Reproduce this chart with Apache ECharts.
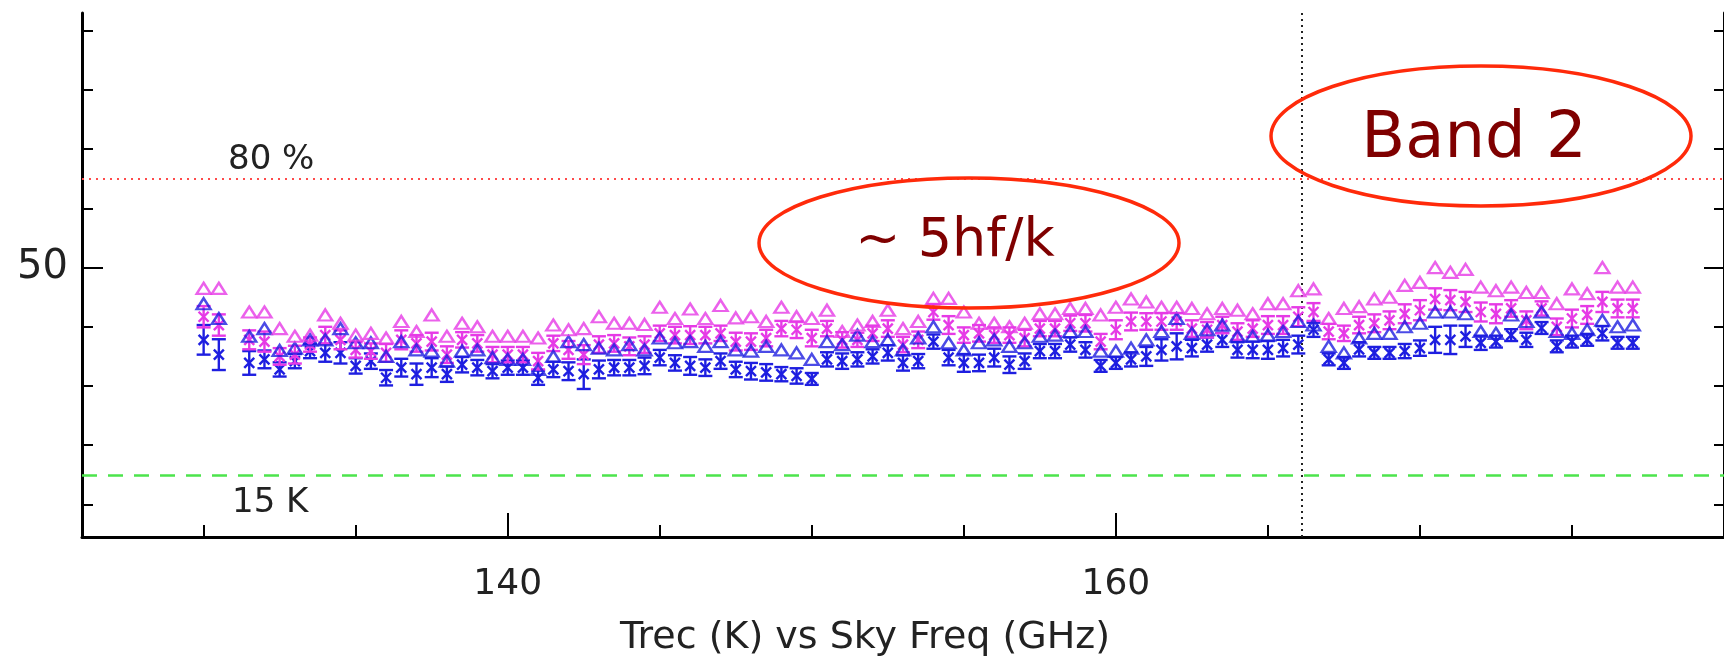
<!DOCTYPE html>
<html>
<head>
<meta charset="utf-8">
<script src="https://cdn.jsdelivr.net/npm/echarts@6/dist/echarts.min.js"></script>
<style>
  html, body { margin: 0; padding: 0; background: #ffffff; }
  #chart { width: 1724px; height: 662px; }
</style>
</head>
<body>
<div id="chart"></div>
<script>
// Sky frequency of each measurement (GHz)
const freqGHz = [
  130, 130.5, 131.5, 132, 132.5, 133, 133.5, 134, 134.5, 135,
  135.5, 136, 136.5, 137, 137.5, 138, 138.5, 139, 139.5, 140,
  140.5, 141, 141.5, 142, 142.5, 143, 143.5, 144, 144.5, 145,
  145.5, 146, 146.5, 147, 147.5, 148, 148.5, 149, 149.5, 150,
  150.5, 151, 151.5, 152, 152.5, 153, 153.5, 154, 154.5, 155,
  155.5, 156, 156.5, 157, 157.5, 158, 158.5, 159, 159.5, 160,
  160.5, 161, 161.5, 162, 162.5, 163, 163.5, 164, 164.5, 165,
  165.5, 166, 166.5, 167, 167.5, 168, 168.5, 169, 169.5, 170,
  170.5, 171, 171.5, 172, 172.5, 173, 173.5, 174, 174.5, 175,
  175.5, 176, 176.5, 177
];

// Pol. B (magenta): peak Trec over the IF band (K)
const magentaPeak = [
  46.5, 46.5, 42.5, 42.5, 39.7, 38.4, 38.6, 42.0, 40.6, 38.6,
  38.9, 38.1, 40.9, 39.2, 42.0, 38.4, 40.6, 40.0, 38.4, 38.4,
  38.4, 38.1, 40.3, 39.5, 39.7, 41.7, 40.6, 40.6, 40.4, 43.3,
  41.4, 43.0, 41.4, 43.6, 41.5, 41.7, 40.9, 43.3, 41.7, 41.4,
  42.8, 39.2, 40.3, 40.9, 42.8, 39.7, 40.9, 44.8, 44.8, 42.5,
  40.6, 40.6, 40.0, 40.6, 42.2, 42.2, 43.1, 43.1, 42.0, 43.3,
  44.7, 44.2, 43.3, 43.3, 43.1, 42.2, 43.1, 42.8, 42.2, 43.9,
  43.9, 46.1, 46.4, 41.4, 43.1, 43.4, 44.7, 45.0, 47.0, 47.5,
  50.0, 49.2, 49.7, 46.7, 46.1, 46.7, 45.8, 45.8, 43.9, 46.4,
  45.6, 50.0, 46.7, 46.7
];

// Pol. A (blue): peak Trec over the IF band (K)
const bluePeak = [
  43.9, 41.4, 38.4, 39.7, 36.0, 36.4, 37.8, 37.8, 39.7, 37.3,
  37.3, 35.0, 37.5, 36.1, 35.9, 34.2, 35.9, 36.1, 34.8, 34.5,
  34.5, 32.8, 35.0, 37.5, 37.0, 36.4, 36.1, 37.0, 36.1, 38.1,
  37.3, 37.5, 36.7, 37.5, 36.1, 35.9, 36.7, 36.1, 35.6, 34.5,
  37.5, 37.0, 38.6, 37.5, 37.8, 36.1, 38.1, 40.0, 37.3, 36.1,
  37.3, 37.8, 36.7, 37.3, 38.4, 38.6, 39.2, 39.2, 35.9, 35.9,
  36.4, 37.8, 39.2, 41.4, 38.9, 39.5, 40.3, 38.4, 38.4, 38.6,
  39.2, 40.9, 40.3, 36.7, 35.6, 38.1, 38.9, 38.9, 40.0, 40.6,
  42.5, 42.5, 42.2, 39.2, 38.9, 42.0, 40.9, 42.5, 39.2, 38.9,
  39.5, 41.1, 40.0, 40.3
];

// Pol. B (magenta): band-averaged Trec (K) and its scatter
const magentaMean = [
  41.7, 40.3, 37.8, 37.5, 35.0, 35.3, 37.0, 38.6, 37.8, 36.1,
  35.9, 35.6, 37.8, 37.2, 37.5, 35.3, 37.8, 37.2, 35.3, 35.3,
  35.3, 34.2, 37.2, 36.1, 35.3, 37.0, 37.2, 36.7, 37.0, 38.9,
  38.6, 38.6, 38.6, 38.9, 37.5, 37.5, 38.1, 39.7, 39.5, 38.1,
  39.7, 37.8, 37.8, 38.9, 39.7, 37.0, 37.8, 42.5, 40.3, 38.6,
  38.9, 38.6, 38.6, 38.1, 39.7, 39.7, 40.6, 40.6, 37.5, 39.5,
  40.9, 40.9, 40.9, 40.9, 39.7, 39.5, 40.3, 39.2, 39.7, 40.3,
  40.3, 41.7, 42.5, 39.2, 38.9, 40.3, 40.6, 41.1, 42.2, 42.8,
  44.7, 44.5, 44.2, 42.5, 42.2, 43.1, 41.1, 43.1, 40.0, 41.4,
  42.0, 44.2, 43.1, 43.1
];
const magentaErr = [
  1.8, 1.8, 1.6, 1.7, 1.4, 1.5, 1.2, 1.4, 1.6, 1.3,
  1.3, 1.5, 1.6, 1.4, 1.5, 1.4, 1.3, 1.4, 1.3, 1.3,
  1.3, 1.4, 1.3, 1.5, 1.6, 1.4, 1.4, 1.5, 1.4, 1.3,
  1.4, 1.5, 1.4, 1.3, 1.5, 1.4, 1.4, 1.3, 1.4, 1.4,
  1.3, 1.3, 1.2, 1.3, 1.4, 1.3, 1.4, 1.3, 1.5, 1.3,
  1.4, 1.3, 1.3, 1.4, 1.3, 1.3, 1.3, 1.4, 1.3, 1.6,
  1.5, 1.4, 1.4, 1.4, 1.4, 1.3, 1.4, 1.4, 1.4, 1.5,
  1.5, 1.6, 1.5, 1.3, 1.3, 1.4, 1.5, 1.5, 1.6, 1.7,
  1.8, 1.7, 1.7, 1.6, 1.6, 1.4, 1.5, 1.2, 1.4, 1.5,
  1.5, 1.7, 1.5, 1.5
];

// Pol. A (blue): band-averaged Trec (K) and its scatter
const blueMean = [
  37.8, 35.3, 33.9, 34.5, 32.8, 34.2, 35.9, 35.6, 35.6, 33.4,
  34.2, 31.4, 33.1, 32.0, 33.1, 32.0, 33.6, 33.1, 32.5, 33.1,
  33.1, 31.4, 32.8, 32.5, 32.0, 32.8, 33.1, 33.1, 33.4, 34.8,
  33.9, 33.4, 33.1, 34.2, 32.8, 32.5, 32.3, 32.0, 31.7, 31.2,
  34.5, 34.2, 34.5, 35.0, 35.6, 33.9, 34.2, 37.5, 34.8, 33.9,
  33.9, 34.8, 33.6, 34.2, 35.9, 35.9, 37.0, 36.1, 33.4, 33.9,
  34.5, 35.0, 36.1, 36.7, 36.4, 37.0, 37.8, 36.1, 36.1, 36.1,
  36.4, 37.0, 39.5, 34.5, 33.9, 36.2, 35.6, 35.6, 35.9, 36.4,
  37.8, 37.8, 38.4, 37.3, 37.5, 38.6, 37.8, 39.8, 36.7, 37.5,
  37.8, 38.9, 37.3, 37.3
];
const blueErr = [
  2.5, 2.6, 2.0, 1.5, 1.2, 1.2, 1.2, 1.5, 1.8, 1.3,
  1.3, 1.3, 1.5, 1.8, 1.6, 1.3, 1.3, 1.3, 1.2, 1.2,
  1.2, 1.2, 1.3, 1.5, 2.5, 1.5, 1.3, 1.3, 1.4, 1.3,
  1.3, 1.5, 1.4, 1.3, 1.3, 1.4, 1.4, 1.2, 1.3, 1.0,
  1.2, 1.3, 1.2, 1.2, 1.3, 1.3, 1.2, 1.2, 1.3, 1.5,
  1.4, 1.5, 1.4, 1.3, 1.2, 1.2, 1.2, 1.3, 1.0, 1.0,
  1.2, 1.6, 1.8, 2.2, 1.4, 1.2, 1.2, 1.3, 1.4, 1.5,
  1.4, 1.5, 1.2, 1.0, 1.0, 1.2, 1.0, 1.0, 1.2, 1.3,
  2.2, 2.4, 1.8, 1.2, 1.0, 1.0, 1.2, 1.0, 1.0, 1.0,
  1.0, 1.2, 1.0, 1.0
];

// Axis ticks and labels
const xTickValues = [130, 135, 140, 145, 150, 155, 160, 165, 170, 175];
const xLabelValues = [140, 160];
const yTickValues = [10, 20, 30, 40, 50, 60, 70, 80, 90];
const yLabelValues = [50];

// Reference levels (K) and the band edge (GHz)
const spec80 = 65;
const spec15 = 15;
const bandEdge = 166.1;

const MAGENTA = '#e63ae6';
const BLUE = '#1e1ee0';
const FONT = "'DejaVu Sans', sans-serif";

const chart = echarts.init(document.getElementById('chart'), null, { renderer: 'canvas' });

// Mean value with an error bar: vertical bar, end caps and an x marker
function errorBarRenderer(color) {
  return function (params, api) {
    const f = api.value(0);
    const m = api.value(1);
    const e = api.value(2);
    const c = api.coord([f, m]);
    const hi = api.coord([f, m + e]);
    const lo = api.coord([f, m - e]);
    const cap = 7;
    const s = 5;
    const style = { stroke: color, lineWidth: 2.4, fill: null };
    return {
      type: 'group',
      children: [
        { type: 'line', shape: { x1: c[0], y1: hi[1], x2: c[0], y2: lo[1] }, style: style },
        { type: 'line', shape: { x1: c[0] - cap, y1: hi[1], x2: c[0] + cap, y2: hi[1] }, style: style },
        { type: 'line', shape: { x1: c[0] - cap, y1: lo[1], x2: c[0] + cap, y2: lo[1] }, style: style },
        { type: 'line', shape: { x1: c[0] - s, y1: c[1] - s, x2: c[0] + s, y2: c[1] + s }, style: style },
        { type: 'line', shape: { x1: c[0] - s, y1: c[1] + s, x2: c[0] + s, y2: c[1] - s }, style: style }
      ]
    };
  };
}

function peakSeries(name, values, color) {
  return {
    name: name,
    type: 'scatter',
    xAxisIndex: 0,
    yAxisIndex: 0,
    symbol: 'triangle',
    symbolSize: [14, 11],
    data: freqGHz.map((f, i) => [f, values[i]]),
    itemStyle: { color: 'rgba(255,255,255,0)', borderColor: color, borderWidth: 2.4 },
    z: 3
  };
}

function meanSeries(name, values, errs, color) {
  return {
    name: name,
    type: 'custom',
    xAxisIndex: 0,
    yAxisIndex: 0,
    renderItem: errorBarRenderer(color),
    encode: { x: 0, y: 1 },
    data: freqGHz.map((f, i) => [f, values[i], errs[i]]),
    z: 3
  };
}

const baseX = { type: 'value', min: 126, max: 180, position: 'bottom', splitLine: { show: false } };
const baseY = { type: 'value', min: 4.5, max: 93, splitLine: { show: false } };

const option = {
  animation: false,
  backgroundColor: '#ffffff',
  grid: { left: 82, right: -2, top: 13, bottom: 119, containLabel: false },
  xAxis: [
    Object.assign({}, baseX, {
      axisLine: { show: true, onZero: false, lineStyle: { color: '#000', width: 3 } },
      axisTick: { show: true, inside: true, length: 12, customValues: xTickValues, lineStyle: { color: '#000', width: 2 } },
      axisLabel: { show: false },
      name: 'Trec (K) vs Sky Freq (GHz)',
      nameLocation: 'middle',
      nameGap: 82,
      nameTextStyle: { fontFamily: FONT, fontSize: 38, color: '#222', padding: [0, 76, 0, 0] }
    }),
    Object.assign({}, baseX, {
      axisLine: { show: false, onZero: false },
      axisTick: { show: true, inside: true, length: 24, customValues: xLabelValues, lineStyle: { color: '#000', width: 2 } },
      axisLabel: { show: true, customValues: xLabelValues, margin: 30, fontFamily: FONT, fontSize: 36, color: '#222' }
    })
  ],
  yAxis: [
    Object.assign({}, baseY, {
      position: 'left',
      axisLine: { show: true, onZero: false, lineStyle: { color: '#000', width: 3 } },
      axisTick: { show: true, inside: true, length: 11, customValues: yTickValues, lineStyle: { color: '#000', width: 2 } },
      axisLabel: { show: false }
    }),
    Object.assign({}, baseY, {
      position: 'left',
      axisLine: { show: false, onZero: false },
      axisTick: { show: true, inside: true, length: 21, customValues: yLabelValues, lineStyle: { color: '#000', width: 2 } },
      axisLabel: { show: true, customValues: yLabelValues, margin: 14, fontFamily: FONT, fontSize: 40, color: '#222' }
    }),
    Object.assign({}, baseY, {
      position: 'right',
      axisLine: { show: true, onZero: false, lineStyle: { color: '#000', width: 3 } },
      axisTick: { show: true, inside: true, length: 10, customValues: yTickValues, lineStyle: { color: '#000', width: 2 } },
      axisLabel: { show: false }
    }),
    Object.assign({}, baseY, {
      position: 'right',
      axisLine: { show: false, onZero: false },
      axisTick: { show: true, inside: true, length: 20, customValues: yLabelValues, lineStyle: { color: '#000', width: 2 } },
      axisLabel: { show: false }
    })
  ],
  series: [
    Object.assign(peakSeries('Pol A peak', bluePeak, BLUE), {
      markLine: {
        silent: true,
        symbol: 'none',
        animation: false,
        label: { show: false },
        z: 1,
        data: [
          { yAxis: spec80, lineStyle: { color: '#ff4a4a', type: [2, 5], width: 2 } },
          { yAxis: spec15, lineStyle: { color: '#4ce44c', type: [15, 11], width: 2.5 } },
          { xAxis: bandEdge, lineStyle: { color: '#222', type: [2, 4], width: 2 } }
        ]
      }
    }),
    meanSeries('Pol A mean', blueMean, blueErr, BLUE),
    peakSeries('Pol B peak', magentaPeak, MAGENTA),
    meanSeries('Pol B mean', magentaMean, magentaErr, MAGENTA)
  ],
  graphic: [
    { type: 'text', left: 228, top: 143, z: 50,
      style: { text: '80 %', font: "34px 'DejaVu Sans', sans-serif", fill: '#222' } },
    { type: 'text', left: 232, top: 486, z: 50,
      style: { text: '15 K', font: "34px 'DejaVu Sans', sans-serif", fill: '#222' } },
    { type: 'ellipse', z: 60, shape: { cx: 969, cy: 243, rx: 210, ry: 65 },
      style: { fill: 'none', stroke: '#ff2a0a', lineWidth: 3.5 } },
    { type: 'text', z: 60, x: 955, y: 242,
      style: { text: '~ 5hf/k', font: "54px 'DejaVu Sans', sans-serif", fill: '#7f0000', align: 'center', verticalAlign: 'middle' } },
    { type: 'ellipse', z: 60, shape: { cx: 1481, cy: 136, rx: 210, ry: 70 },
      style: { fill: 'none', stroke: '#ff2a0a', lineWidth: 3.5 } },
    { type: 'text', z: 60, x: 1474, y: 140,
      style: { text: 'Band 2', font: "64px 'DejaVu Sans', sans-serif", fill: '#7f0000', align: 'center', verticalAlign: 'middle' } }
  ]
};

chart.setOption(option);
</script>
</body>
</html>
